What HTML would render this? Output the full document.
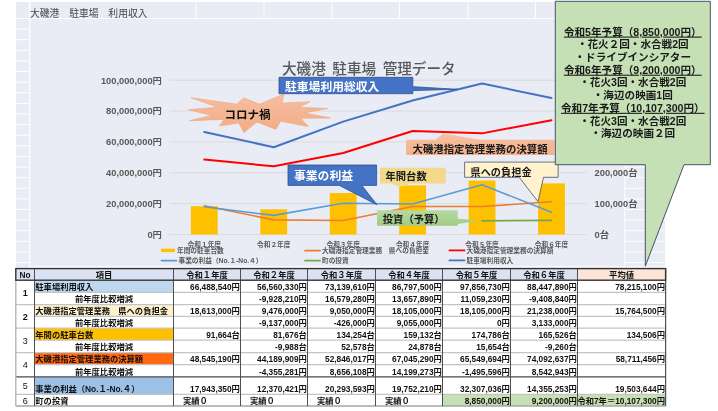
<!DOCTYPE html>
<html lang="ja"><head><meta charset="utf-8"><title>大磯港 駐車場 利用収入</title>
<style>
html,body{margin:0;padding:0;background:#fff;}
body{width:718px;height:411px;position:relative;overflow:hidden;font-family:"Liberation Sans", "Noto Sans CJK JP", sans-serif;}
</style></head><body>
<svg width="718" height="411" viewBox="0 0 718 411" style="position:absolute;left:0;top:0"><rect x="16" y="2" width="649" height="266" fill="#E9EBF5"/>
<line x1="29.5" y1="2" x2="29.5" y2="18.5" stroke="#fff" stroke-width="1"/>
<line x1="196" y1="2" x2="196" y2="18.5" stroke="#fff" stroke-width="1"/>
<line x1="264" y1="2" x2="264" y2="18.5" stroke="#fff" stroke-width="1"/>
<line x1="332" y1="2" x2="332" y2="18.5" stroke="#fff" stroke-width="1"/>
<line x1="399.5" y1="2" x2="399.5" y2="18.5" stroke="#fff" stroke-width="1"/>
<line x1="468" y1="2" x2="468" y2="18.5" stroke="#fff" stroke-width="1"/>
<line x1="535.5" y1="2" x2="535.5" y2="18.5" stroke="#fff" stroke-width="1"/>
<line x1="603" y1="2" x2="603" y2="18.5" stroke="#fff" stroke-width="1"/>
<line x1="29.8" y1="2" x2="29.8" y2="268" stroke="#fff" stroke-width="1.2"/>
<line x1="16" y1="18.50" x2="29.5" y2="18.50" stroke="#fff" stroke-width="1"/>
<line x1="624.5" y1="18.50" x2="665" y2="18.50" stroke="#fff" stroke-width="1"/>
<line x1="16" y1="29.11" x2="29.5" y2="29.11" stroke="#fff" stroke-width="1"/>
<line x1="624.5" y1="29.11" x2="665" y2="29.11" stroke="#fff" stroke-width="1"/>
<line x1="16" y1="39.72" x2="29.5" y2="39.72" stroke="#fff" stroke-width="1"/>
<line x1="624.5" y1="39.72" x2="665" y2="39.72" stroke="#fff" stroke-width="1"/>
<line x1="16" y1="50.33" x2="29.5" y2="50.33" stroke="#fff" stroke-width="1"/>
<line x1="624.5" y1="50.33" x2="665" y2="50.33" stroke="#fff" stroke-width="1"/>
<line x1="16" y1="60.94" x2="29.5" y2="60.94" stroke="#fff" stroke-width="1"/>
<line x1="624.5" y1="60.94" x2="665" y2="60.94" stroke="#fff" stroke-width="1"/>
<line x1="16" y1="71.55" x2="29.5" y2="71.55" stroke="#fff" stroke-width="1"/>
<line x1="624.5" y1="71.55" x2="665" y2="71.55" stroke="#fff" stroke-width="1"/>
<line x1="16" y1="82.16" x2="29.5" y2="82.16" stroke="#fff" stroke-width="1"/>
<line x1="624.5" y1="82.16" x2="665" y2="82.16" stroke="#fff" stroke-width="1"/>
<line x1="16" y1="92.77" x2="29.5" y2="92.77" stroke="#fff" stroke-width="1"/>
<line x1="624.5" y1="92.77" x2="665" y2="92.77" stroke="#fff" stroke-width="1"/>
<line x1="16" y1="103.38" x2="29.5" y2="103.38" stroke="#fff" stroke-width="1"/>
<line x1="624.5" y1="103.38" x2="665" y2="103.38" stroke="#fff" stroke-width="1"/>
<line x1="16" y1="113.99" x2="29.5" y2="113.99" stroke="#fff" stroke-width="1"/>
<line x1="624.5" y1="113.99" x2="665" y2="113.99" stroke="#fff" stroke-width="1"/>
<line x1="16" y1="124.60" x2="29.5" y2="124.60" stroke="#fff" stroke-width="1"/>
<line x1="624.5" y1="124.60" x2="665" y2="124.60" stroke="#fff" stroke-width="1"/>
<line x1="16" y1="135.21" x2="29.5" y2="135.21" stroke="#fff" stroke-width="1"/>
<line x1="624.5" y1="135.21" x2="665" y2="135.21" stroke="#fff" stroke-width="1"/>
<line x1="16" y1="145.82" x2="29.5" y2="145.82" stroke="#fff" stroke-width="1"/>
<line x1="624.5" y1="145.82" x2="665" y2="145.82" stroke="#fff" stroke-width="1"/>
<line x1="16" y1="156.43" x2="29.5" y2="156.43" stroke="#fff" stroke-width="1"/>
<line x1="624.5" y1="156.43" x2="665" y2="156.43" stroke="#fff" stroke-width="1"/>
<line x1="16" y1="167.04" x2="29.5" y2="167.04" stroke="#fff" stroke-width="1"/>
<line x1="624.5" y1="167.04" x2="665" y2="167.04" stroke="#fff" stroke-width="1"/>
<line x1="16" y1="177.65" x2="29.5" y2="177.65" stroke="#fff" stroke-width="1"/>
<line x1="624.5" y1="177.65" x2="665" y2="177.65" stroke="#fff" stroke-width="1"/>
<line x1="16" y1="188.26" x2="29.5" y2="188.26" stroke="#fff" stroke-width="1"/>
<line x1="624.5" y1="188.26" x2="665" y2="188.26" stroke="#fff" stroke-width="1"/>
<line x1="16" y1="198.87" x2="29.5" y2="198.87" stroke="#fff" stroke-width="1"/>
<line x1="624.5" y1="198.87" x2="665" y2="198.87" stroke="#fff" stroke-width="1"/>
<line x1="16" y1="209.48" x2="29.5" y2="209.48" stroke="#fff" stroke-width="1"/>
<line x1="624.5" y1="209.48" x2="665" y2="209.48" stroke="#fff" stroke-width="1"/>
<line x1="16" y1="220.09" x2="29.5" y2="220.09" stroke="#fff" stroke-width="1"/>
<line x1="624.5" y1="220.09" x2="665" y2="220.09" stroke="#fff" stroke-width="1"/>
<line x1="16" y1="230.70" x2="29.5" y2="230.70" stroke="#fff" stroke-width="1"/>
<line x1="624.5" y1="230.70" x2="665" y2="230.70" stroke="#fff" stroke-width="1"/>
<line x1="16" y1="241.31" x2="29.5" y2="241.31" stroke="#fff" stroke-width="1"/>
<line x1="624.5" y1="241.31" x2="665" y2="241.31" stroke="#fff" stroke-width="1"/>
<line x1="16" y1="251.92" x2="29.5" y2="251.92" stroke="#fff" stroke-width="1"/>
<line x1="624.5" y1="251.92" x2="665" y2="251.92" stroke="#fff" stroke-width="1"/>
<line x1="16" y1="262.53" x2="29.5" y2="262.53" stroke="#fff" stroke-width="1"/>
<line x1="624.5" y1="262.53" x2="665" y2="262.53" stroke="#fff" stroke-width="1"/>
<line x1="16" y1="18.5" x2="665" y2="18.5" stroke="#fff" stroke-width="1"/>
<rect x="30.5" y="19" width="594" height="247.5" fill="#E9EBF5"/>
<line x1="624.8" y1="19" x2="624.8" y2="268" stroke="#fff" stroke-width="1"/>
<line x1="30" y1="266.8" x2="665" y2="266.8" stroke="#fff" stroke-width="1"/>
<text x="30" y="17" font-size="9.8" fill="#474747" font-family='"Liberation Sans", "Noto Sans CJK JP", sans-serif'>大磯港　駐車場　利用収入</text>
<text x="282" y="74.2" font-size="14.6" font-weight="500" word-spacing="2.5" fill="#595959" font-family='"Liberation Sans", "Noto Sans CJK JP", sans-serif'>大磯港 駐車場 管理データ</text>
<line x1="169.6" y1="234.50" x2="586.2" y2="234.50" stroke="#D9D9D9" stroke-width="0.9"/>
<line x1="169.6" y1="203.64" x2="586.2" y2="203.64" stroke="#D9D9D9" stroke-width="0.9"/>
<line x1="169.6" y1="172.78" x2="586.2" y2="172.78" stroke="#D9D9D9" stroke-width="0.9"/>
<line x1="169.6" y1="141.92" x2="586.2" y2="141.92" stroke="#D9D9D9" stroke-width="0.9"/>
<line x1="169.6" y1="111.06" x2="586.2" y2="111.06" stroke="#D9D9D9" stroke-width="0.9"/>
<line x1="169.6" y1="80.20" x2="586.2" y2="80.20" stroke="#D9D9D9" stroke-width="0.9"/>
<text x="161.9" y="237.80" font-size="9.3" font-weight="bold" fill="#595959" text-anchor="end" font-family='"Liberation Sans", "Noto Sans CJK JP", sans-serif'>0円</text>
<text x="161.9" y="206.94" font-size="9.3" font-weight="bold" fill="#595959" text-anchor="end" font-family='"Liberation Sans", "Noto Sans CJK JP", sans-serif'>20,000,000円</text>
<text x="161.9" y="176.08" font-size="9.3" font-weight="bold" fill="#595959" text-anchor="end" font-family='"Liberation Sans", "Noto Sans CJK JP", sans-serif'>40,000,000円</text>
<text x="161.9" y="145.22" font-size="9.3" font-weight="bold" fill="#595959" text-anchor="end" font-family='"Liberation Sans", "Noto Sans CJK JP", sans-serif'>60,000,000円</text>
<text x="161.9" y="114.36" font-size="9.3" font-weight="bold" fill="#595959" text-anchor="end" font-family='"Liberation Sans", "Noto Sans CJK JP", sans-serif'>80,000,000円</text>
<text x="161.9" y="83.50" font-size="9.3" font-weight="bold" fill="#595959" text-anchor="end" font-family='"Liberation Sans", "Noto Sans CJK JP", sans-serif'>100,000,000円</text>
<text x="594.6" y="237.80" font-size="9.3" font-weight="bold" fill="#595959" font-family='"Liberation Sans", "Noto Sans CJK JP", sans-serif'>0台</text>
<text x="594.6" y="206.94" font-size="9.3" font-weight="bold" fill="#595959" font-family='"Liberation Sans", "Noto Sans CJK JP", sans-serif'>100,000台</text>
<text x="594.6" y="176.08" font-size="9.3" font-weight="bold" fill="#595959" font-family='"Liberation Sans", "Noto Sans CJK JP", sans-serif'>200,000台</text>
<text x="594.6" y="145.22" font-size="9.3" font-weight="bold" fill="#595959" font-family='"Liberation Sans", "Noto Sans CJK JP", sans-serif'>300,000台</text>
<text x="594.6" y="114.36" font-size="9.3" font-weight="bold" fill="#595959" font-family='"Liberation Sans", "Noto Sans CJK JP", sans-serif'>400,000台</text>
<text x="594.6" y="83.50" font-size="9.3" font-weight="bold" fill="#595959" font-family='"Liberation Sans", "Noto Sans CJK JP", sans-serif'>500,000台</text>
<rect x="190.90" y="206.21" width="26.8" height="28.29" fill="#FFC000"/>
<rect x="260.34" y="209.29" width="26.8" height="25.21" fill="#FFC000"/>
<rect x="329.78" y="193.07" width="26.8" height="41.43" fill="#FFC000"/>
<rect x="399.22" y="185.39" width="26.8" height="49.11" fill="#FFC000"/>
<rect x="468.66" y="180.56" width="26.8" height="53.94" fill="#FFC000"/>
<rect x="538.10" y="183.42" width="26.8" height="51.08" fill="#FFC000"/>
<polyline points="204.30,205.78 273.74,219.88 343.18,220.54 412.62,206.56 482.06,206.56 551.50,201.73" fill="none" stroke="#ED7D31" stroke-width="1.6" stroke-linejoin="round" stroke-linecap="round"/>
<polyline points="204.30,206.81 273.74,215.41 343.18,203.19 412.62,204.02 482.06,184.65 551.50,212.35" fill="none" stroke="#5B9BD5" stroke-width="1.6" stroke-linejoin="round" stroke-linecap="round"/>
<polyline points="482.06,220.84 551.50,220.30" fill="none" stroke="#70AD47" stroke-width="1.8" stroke-linecap="round"/>
<polyline points="204.30,159.59 273.74,166.31 343.18,152.96 412.62,131.05 482.06,133.36 551.50,120.18" fill="none" stroke="#FF0000" stroke-width="2" stroke-linejoin="round" stroke-linecap="round"/>
<polyline points="204.30,131.91 273.74,147.23 343.18,121.65 412.62,100.57 482.06,83.51 551.50,98.02" fill="none" stroke="#4472C4" stroke-width="2" stroke-linejoin="round" stroke-linecap="round"/>
<text x="204.30" y="246.8" font-size="6.7" font-weight="bold" fill="#595959" text-anchor="middle" font-family='"Liberation Sans", "Noto Sans CJK JP", sans-serif'>令和１年度</text>
<text x="273.74" y="246.8" font-size="6.7" font-weight="bold" fill="#595959" text-anchor="middle" font-family='"Liberation Sans", "Noto Sans CJK JP", sans-serif'>令和２年度</text>
<text x="343.18" y="246.8" font-size="6.7" font-weight="bold" fill="#595959" text-anchor="middle" font-family='"Liberation Sans", "Noto Sans CJK JP", sans-serif'>令和３年度</text>
<text x="412.62" y="246.8" font-size="6.7" font-weight="bold" fill="#595959" text-anchor="middle" font-family='"Liberation Sans", "Noto Sans CJK JP", sans-serif'>令和４年度</text>
<text x="482.06" y="246.8" font-size="6.7" font-weight="bold" fill="#595959" text-anchor="middle" font-family='"Liberation Sans", "Noto Sans CJK JP", sans-serif'>令和５年度</text>
<text x="551.50" y="246.8" font-size="6.7" font-weight="bold" fill="#595959" text-anchor="middle" font-family='"Liberation Sans", "Noto Sans CJK JP", sans-serif'>令和６年度</text>
<rect x="161" y="248.70000000000002" width="14" height="3.4" fill="#FFC000"/>
<text x="177" y="252.70000000000002" font-size="6.7" font-weight="bold" fill="#595959" font-family='"Liberation Sans", "Noto Sans CJK JP", sans-serif'>年間の駐車台数</text>
<line x1="305" y1="250.6" x2="320" y2="250.6" stroke="#ED7D31" stroke-width="1.8" stroke-linecap="round"/>
<text x="322" y="252.9" font-size="6.7" font-weight="bold" fill="#595959" font-family='"Liberation Sans", "Noto Sans CJK JP", sans-serif'>大磯港指定管理業務　県への負担金</text>
<line x1="449.5" y1="250.4" x2="464.5" y2="250.4" stroke="#FF0000" stroke-width="1.8" stroke-linecap="round"/>
<text x="466.5" y="252.70000000000002" font-size="6.7" font-weight="bold" fill="#595959" font-family='"Liberation Sans", "Noto Sans CJK JP", sans-serif'>大磯港指定管理業務の決算額</text>
<line x1="161.5" y1="260.6" x2="176.5" y2="260.6" stroke="#5B9BD5" stroke-width="1.8" stroke-linecap="round"/>
<text x="178.5" y="262.90000000000003" font-size="6.7" font-weight="bold" fill="#595959" font-family='"Liberation Sans", "Noto Sans CJK JP", sans-serif'>事業の利益（No.１-No.４）</text>
<line x1="305" y1="260.6" x2="320" y2="260.6" stroke="#70AD47" stroke-width="1.8" stroke-linecap="round"/>
<text x="322" y="262.90000000000003" font-size="6.7" font-weight="bold" fill="#595959" font-family='"Liberation Sans", "Noto Sans CJK JP", sans-serif'>町の投資</text>
<line x1="449.5" y1="260.4" x2="464.5" y2="260.4" stroke="#4472C4" stroke-width="1.8" stroke-linecap="round"/>
<text x="466.5" y="262.7" font-size="6.7" font-weight="bold" fill="#595959" font-family='"Liberation Sans", "Noto Sans CJK JP", sans-serif'>駐車場利用収入</text>
<defs><linearGradient id="gEx" x1="0" y1="0" x2="0" y2="1"><stop offset="0" stop-color="#F6BE9F"/><stop offset="1" stop-color="#F3AC86"/></linearGradient><linearGradient id="gInv" x1="0" y1="0" x2="0" y2="1"><stop offset="0" stop-color="#B6D9A1"/><stop offset="1" stop-color="#A1CB86"/></linearGradient><linearGradient id="gKes" x1="0" y1="0" x2="0" y2="1"><stop offset="0" stop-color="#F6C2A4"/><stop offset="1" stop-color="#F3B089"/></linearGradient></defs>
<polygon points="191,97.7 237,104.2 243.6,97.9 259.5,104.2 283.8,94.1 282,103.2 310,101.7 298.8,107.3 327.5,108.5 304.6,112.9 330.4,118 300.7,118.2 308.2,126.5 280.6,121.2 275.8,129.4 257,121.9 243.9,132.6 238.7,122.9 219.5,125.9 223.9,119.4 189.4,120.7 211.8,115.4 188.3,109.7 217.9,107.3" fill="url(#gEx)" stroke="#F1A278" stroke-width="0.6" stroke-linejoin="miter"/>
<text x="247.5" y="118.6" font-size="11.5" font-weight="bold" fill="#111" text-anchor="middle" font-family='"Liberation Sans", "Noto Sans CJK JP", sans-serif'>コロナ禍</text>
<path d="M279,77.3 H412.8 V86.7 L457.4,89.3 L412.8,90.6 V93.7 H279 Z" fill="#4472C4" stroke="#2F528F" stroke-width="0.8"/>
<text x="285" y="91.2" font-size="11.8" font-weight="bold" fill="#fff" font-family='"Liberation Sans", "Noto Sans CJK JP", sans-serif'>駐車場利用総収入</text>
<path d="M406.1,139.8 H435.7 L443,133.5 L480,139.8 H554.5 V154.9 H406.1 Z" fill="url(#gKes)"/>
<text x="412.5" y="152.6" font-size="10.4" font-weight="bold" fill="#1a1a1a" font-family='"Liberation Sans", "Noto Sans CJK JP", sans-serif'>大磯港指定管理業務の決算額</text>
<path d="M288,165 H376.6 V185.4 H361.9 L377,204.8 L339.3,185.4 H288 Z" fill="#4472C4" stroke="#2F528F" stroke-width="0.8"/>
<text x="294" y="179.9" font-size="11.8" font-weight="bold" fill="#fff" font-family='"Liberation Sans", "Noto Sans CJK JP", sans-serif'>事業の利益</text>
<path d="M380,167.7 H445.7 V183.4 H408 V185 L399.5,186.4 L390.9,183.4 H380 Z" fill="#F2D98C"/>
<text x="385.5" y="180.2" font-size="10.3" font-weight="bold" fill="#1a1a1a" font-family='"Liberation Sans", "Noto Sans CJK JP", sans-serif'>年間台数</text>
<path d="M464.6,162.1 H558.1 V177.3 H543.5 L538,201.6 L519.2,177.3 H464.6 Z" fill="#FFF2CC" stroke="#44546A" stroke-width="0.8"/>
<text x="470.5" y="175.6" font-size="10.2" font-weight="bold" fill="#1a1a1a" font-family='"Liberation Sans", "Noto Sans CJK JP", sans-serif'>県への負担金</text>
<path d="M377,210.2 H457.8 V218.5 L478.7,220.7 L457.8,224 V225.8 H377 Z" fill="url(#gInv)"/>
<text x="382.8" y="223.1" font-size="10.3" font-weight="bold" fill="#1a1a1a" font-family='"Liberation Sans", "Noto Sans CJK JP", sans-serif'>投資（予算）</text>
<path d="M555.3,1.3 H710.3 V164.7 H684 L645.3,266.2 V164.7 H555.3 Z" fill="#C5E0B4" stroke="#44546A" stroke-width="1"/>
<text x="632.8" y="35.60" font-size="10.6" font-weight="bold" fill="#1a1a1a" text-anchor="middle" font-family='"Liberation Sans", "Noto Sans CJK JP", sans-serif' text-decoration="underline">令和5年予算（8,850,000円）</text>
<text x="632.8" y="48.30" font-size="10.6" font-weight="bold" fill="#1a1a1a" text-anchor="middle" font-family='"Liberation Sans", "Noto Sans CJK JP", sans-serif'>・花火２回・水合戦2回</text>
<text x="632.8" y="61.00" font-size="10.6" font-weight="bold" fill="#1a1a1a" text-anchor="middle" font-family='"Liberation Sans", "Noto Sans CJK JP", sans-serif'>・ドライブインシアター</text>
<text x="632.8" y="73.70" font-size="10.6" font-weight="bold" fill="#1a1a1a" text-anchor="middle" font-family='"Liberation Sans", "Noto Sans CJK JP", sans-serif' text-decoration="underline">令和6年予算（9,200,000円）</text>
<text x="632.8" y="86.40" font-size="10.6" font-weight="bold" fill="#1a1a1a" text-anchor="middle" font-family='"Liberation Sans", "Noto Sans CJK JP", sans-serif'>・花火3回・水合戦2回</text>
<text x="632.8" y="99.10" font-size="10.6" font-weight="bold" fill="#1a1a1a" text-anchor="middle" font-family='"Liberation Sans", "Noto Sans CJK JP", sans-serif'>・海辺の映画1回</text>
<text x="632.8" y="111.80" font-size="10.6" font-weight="bold" fill="#1a1a1a" text-anchor="middle" font-family='"Liberation Sans", "Noto Sans CJK JP", sans-serif' text-decoration="underline">令和7年予算（10,107,300円）</text>
<text x="632.8" y="124.50" font-size="10.6" font-weight="bold" fill="#1a1a1a" text-anchor="middle" font-family='"Liberation Sans", "Noto Sans CJK JP", sans-serif'>・花火3回・水合戦2回</text>
<text x="632.8" y="137.20" font-size="10.6" font-weight="bold" fill="#1a1a1a" text-anchor="middle" font-family='"Liberation Sans", "Noto Sans CJK JP", sans-serif'>・海辺の映画２回</text></svg>
<svg width="718" height="411" viewBox="0 0 718 411" style="position:absolute;left:0;top:0"><rect x="15.8" y="268.6" width="649.80" height="137.40" fill="#fff"/>
<rect x="15.8" y="268.6" width="561.70" height="11.60" fill="#D9E1F2"/>
<rect x="577.5" y="268.6" width="88.10" height="11.60" fill="#FCE4D6"/>
<rect x="34.5" y="280.2" width="139.00" height="12.20" fill="#BDD7EE"/>
<rect x="34.5" y="304.7" width="139.00" height="11.60" fill="#FFF2CC"/>
<rect x="34.5" y="328.2" width="139.00" height="12.00" fill="#FFC000"/>
<rect x="34.5" y="352.6" width="139.00" height="12.00" fill="#FF6A13"/>
<rect x="34.5" y="376.9" width="139.00" height="17.50" fill="#9BC2E6"/>
<rect x="442.5" y="394.4" width="223.10" height="11.60" fill="#C6E0B4"/>
<line x1="34.5" y1="292.4" x2="665.6" y2="292.4" stroke="#C4C4C4" stroke-width="1.3"/>
<line x1="15.8" y1="304.7" x2="665.6" y2="304.7" stroke="#C4C4C4" stroke-width="1.3"/>
<line x1="34.5" y1="316.3" x2="665.6" y2="316.3" stroke="#C4C4C4" stroke-width="1.3"/>
<line x1="15.8" y1="328.2" x2="665.6" y2="328.2" stroke="#C4C4C4" stroke-width="1.3"/>
<line x1="34.5" y1="340.2" x2="665.6" y2="340.2" stroke="#C4C4C4" stroke-width="1.3"/>
<line x1="15.8" y1="352.6" x2="665.6" y2="352.6" stroke="#C4C4C4" stroke-width="1.3"/>
<line x1="34.5" y1="364.6" x2="665.6" y2="364.6" stroke="#C4C4C4" stroke-width="1.3"/>
<line x1="15.8" y1="394.4" x2="665.6" y2="394.4" stroke="#C4C4C4" stroke-width="1.3"/>
<line x1="15.8" y1="406" x2="665.6" y2="406" stroke="#A6A6A6" stroke-width="1.3"/>
<line x1="15.8" y1="376.9" x2="665.6" y2="376.9" stroke="#4a4a4a" stroke-width="1.3"/>
<line x1="15.8" y1="280.2" x2="15.8" y2="406" stroke="#B0B0B0" stroke-width="1.3"/>
<line x1="34.5" y1="268.6" x2="34.5" y2="406" stroke="#505050" stroke-width="1"/>
<line x1="173.5" y1="268.6" x2="173.5" y2="406" stroke="#505050" stroke-width="1"/>
<line x1="240.5" y1="268.6" x2="240.5" y2="406" stroke="#505050" stroke-width="1"/>
<line x1="307.5" y1="268.6" x2="307.5" y2="406" stroke="#505050" stroke-width="1"/>
<line x1="375.5" y1="268.6" x2="375.5" y2="406" stroke="#505050" stroke-width="1"/>
<line x1="442.5" y1="268.6" x2="442.5" y2="406" stroke="#505050" stroke-width="1"/>
<line x1="510.5" y1="268.6" x2="510.5" y2="406" stroke="#505050" stroke-width="1"/>
<line x1="577.5" y1="268.6" x2="577.5" y2="406" stroke="#505050" stroke-width="1"/>
<line x1="665.6" y1="268.6" x2="665.6" y2="406" stroke="#505050" stroke-width="1.2"/>
<rect x="15.8" y="268.6" width="649.80" height="11.60" fill="none" stroke="#333" stroke-width="1.4"/>
<text x="25.15" y="277.60" font-size="8.3" font-weight="bold" fill="#111" text-anchor="middle" font-family='"Liberation Sans", "Noto Sans CJK JP", sans-serif'>No</text>
<text x="104.00" y="277.60" font-size="8.3" font-weight="bold" fill="#111" text-anchor="middle" font-family='"Liberation Sans", "Noto Sans CJK JP", sans-serif'>項目</text>
<text x="207.00" y="277.60" font-size="8.3" font-weight="bold" fill="#111" text-anchor="middle" font-family='"Liberation Sans", "Noto Sans CJK JP", sans-serif'>令和１年度</text>
<text x="274.00" y="277.60" font-size="8.3" font-weight="bold" fill="#111" text-anchor="middle" font-family='"Liberation Sans", "Noto Sans CJK JP", sans-serif'>令和２年度</text>
<text x="341.50" y="277.60" font-size="8.3" font-weight="bold" fill="#111" text-anchor="middle" font-family='"Liberation Sans", "Noto Sans CJK JP", sans-serif'>令和３年度</text>
<text x="409.00" y="277.60" font-size="8.3" font-weight="bold" fill="#111" text-anchor="middle" font-family='"Liberation Sans", "Noto Sans CJK JP", sans-serif'>令和４年度</text>
<text x="476.50" y="277.60" font-size="8.3" font-weight="bold" fill="#111" text-anchor="middle" font-family='"Liberation Sans", "Noto Sans CJK JP", sans-serif'>令和５年度</text>
<text x="544.00" y="277.60" font-size="8.3" font-weight="bold" fill="#111" text-anchor="middle" font-family='"Liberation Sans", "Noto Sans CJK JP", sans-serif'>令和６年度</text>
<text x="621.55" y="277.60" font-size="8.3" font-weight="bold" fill="#111" text-anchor="middle" font-family='"Liberation Sans", "Noto Sans CJK JP", sans-serif'>平均値</text>
<text x="25.15" y="295.75" font-size="9" font-weight="bold" fill="#111" text-anchor="middle" font-family='"Liberation Sans", "Noto Sans CJK JP", sans-serif'>1</text>
<text x="35.30" y="290.00" font-size="8.3" font-weight="bold" fill="#111" text-anchor="start" font-family='"Liberation Sans", "Noto Sans CJK JP", sans-serif'>駐車場利用収入</text>
<text x="104.00" y="302.30" font-size="8.3" font-weight="bold" fill="#111" text-anchor="middle" font-family='"Liberation Sans", "Noto Sans CJK JP", sans-serif'>前年度比較増減</text>
<text x="239.90" y="290.00" font-size="8.3" font-weight="bold" fill="#111" text-anchor="end" font-family='"Liberation Sans", "Noto Sans CJK JP", sans-serif'>66,488,540円</text>
<text x="306.90" y="290.00" font-size="8.3" font-weight="bold" fill="#111" text-anchor="end" font-family='"Liberation Sans", "Noto Sans CJK JP", sans-serif'>56,560,330円</text>
<text x="374.90" y="290.00" font-size="8.3" font-weight="bold" fill="#111" text-anchor="end" font-family='"Liberation Sans", "Noto Sans CJK JP", sans-serif'>73,139,610円</text>
<text x="441.90" y="290.00" font-size="8.3" font-weight="bold" fill="#111" text-anchor="end" font-family='"Liberation Sans", "Noto Sans CJK JP", sans-serif'>86,797,500円</text>
<text x="509.90" y="290.00" font-size="8.3" font-weight="bold" fill="#111" text-anchor="end" font-family='"Liberation Sans", "Noto Sans CJK JP", sans-serif'>97,856,730円</text>
<text x="576.90" y="290.00" font-size="8.3" font-weight="bold" fill="#111" text-anchor="end" font-family='"Liberation Sans", "Noto Sans CJK JP", sans-serif'>88,447,890円</text>
<text x="665.00" y="290.00" font-size="8.3" font-weight="bold" fill="#111" text-anchor="end" font-family='"Liberation Sans", "Noto Sans CJK JP", sans-serif'>78,215,100円</text>
<text x="306.90" y="302.30" font-size="8.3" font-weight="bold" fill="#111" text-anchor="end" font-family='"Liberation Sans", "Noto Sans CJK JP", sans-serif'>-9,928,210円</text>
<text x="374.90" y="302.30" font-size="8.3" font-weight="bold" fill="#111" text-anchor="end" font-family='"Liberation Sans", "Noto Sans CJK JP", sans-serif'>16,579,280円</text>
<text x="441.90" y="302.30" font-size="8.3" font-weight="bold" fill="#111" text-anchor="end" font-family='"Liberation Sans", "Noto Sans CJK JP", sans-serif'>13,657,890円</text>
<text x="509.90" y="302.30" font-size="8.3" font-weight="bold" fill="#111" text-anchor="end" font-family='"Liberation Sans", "Noto Sans CJK JP", sans-serif'>11,059,230円</text>
<text x="576.90" y="302.30" font-size="8.3" font-weight="bold" fill="#111" text-anchor="end" font-family='"Liberation Sans", "Noto Sans CJK JP", sans-serif'>-9,408,840円</text>
<text x="25.15" y="319.75" font-size="9" font-weight="bold" fill="#111" text-anchor="middle" font-family='"Liberation Sans", "Noto Sans CJK JP", sans-serif'>2</text>
<text x="35.30" y="313.90" font-size="8.3" font-weight="bold" fill="#111" text-anchor="start" font-family='"Liberation Sans", "Noto Sans CJK JP", sans-serif'>大磯港指定管理業務　県への負担金</text>
<text x="104.00" y="325.80" font-size="8.3" font-weight="bold" fill="#111" text-anchor="middle" font-family='"Liberation Sans", "Noto Sans CJK JP", sans-serif'>前年度比較増減</text>
<text x="239.90" y="313.90" font-size="8.3" font-weight="bold" fill="#111" text-anchor="end" font-family='"Liberation Sans", "Noto Sans CJK JP", sans-serif'>18,613,000円</text>
<text x="306.90" y="313.90" font-size="8.3" font-weight="bold" fill="#111" text-anchor="end" font-family='"Liberation Sans", "Noto Sans CJK JP", sans-serif'>9,476,000円</text>
<text x="374.90" y="313.90" font-size="8.3" font-weight="bold" fill="#111" text-anchor="end" font-family='"Liberation Sans", "Noto Sans CJK JP", sans-serif'>9,050,000円</text>
<text x="441.90" y="313.90" font-size="8.3" font-weight="bold" fill="#111" text-anchor="end" font-family='"Liberation Sans", "Noto Sans CJK JP", sans-serif'>18,105,000円</text>
<text x="509.90" y="313.90" font-size="8.3" font-weight="bold" fill="#111" text-anchor="end" font-family='"Liberation Sans", "Noto Sans CJK JP", sans-serif'>18,105,000円</text>
<text x="576.90" y="313.90" font-size="8.3" font-weight="bold" fill="#111" text-anchor="end" font-family='"Liberation Sans", "Noto Sans CJK JP", sans-serif'>21,238,000円</text>
<text x="665.00" y="313.90" font-size="8.3" font-weight="bold" fill="#111" text-anchor="end" font-family='"Liberation Sans", "Noto Sans CJK JP", sans-serif'>15,764,500円</text>
<text x="306.90" y="325.80" font-size="8.3" font-weight="bold" fill="#111" text-anchor="end" font-family='"Liberation Sans", "Noto Sans CJK JP", sans-serif'>-9,137,000円</text>
<text x="374.90" y="325.80" font-size="8.3" font-weight="bold" fill="#111" text-anchor="end" font-family='"Liberation Sans", "Noto Sans CJK JP", sans-serif'>-426,000円</text>
<text x="441.90" y="325.80" font-size="8.3" font-weight="bold" fill="#111" text-anchor="end" font-family='"Liberation Sans", "Noto Sans CJK JP", sans-serif'>9,055,000円</text>
<text x="509.90" y="325.80" font-size="8.3" font-weight="bold" fill="#111" text-anchor="end" font-family='"Liberation Sans", "Noto Sans CJK JP", sans-serif'>0円</text>
<text x="576.90" y="325.80" font-size="8.3" font-weight="bold" fill="#111" text-anchor="end" font-family='"Liberation Sans", "Noto Sans CJK JP", sans-serif'>3,133,000円</text>
<text x="25.15" y="343.70" font-size="9" font-weight="normal" fill="#111" text-anchor="middle" font-family='"Liberation Sans", "Noto Sans CJK JP", sans-serif'>3</text>
<text x="35.30" y="337.80" font-size="8.3" font-weight="bold" fill="#111" text-anchor="start" font-family='"Liberation Sans", "Noto Sans CJK JP", sans-serif'>年間の駐車台数</text>
<text x="104.00" y="350.20" font-size="8.3" font-weight="bold" fill="#111" text-anchor="middle" font-family='"Liberation Sans", "Noto Sans CJK JP", sans-serif'>前年度比較増減</text>
<text x="239.90" y="337.80" font-size="8.3" font-weight="bold" fill="#111" text-anchor="end" font-family='"Liberation Sans", "Noto Sans CJK JP", sans-serif'>91,664台</text>
<text x="306.90" y="337.80" font-size="8.3" font-weight="bold" fill="#111" text-anchor="end" font-family='"Liberation Sans", "Noto Sans CJK JP", sans-serif'>81,676台</text>
<text x="374.90" y="337.80" font-size="8.3" font-weight="bold" fill="#111" text-anchor="end" font-family='"Liberation Sans", "Noto Sans CJK JP", sans-serif'>134,254台</text>
<text x="441.90" y="337.80" font-size="8.3" font-weight="bold" fill="#111" text-anchor="end" font-family='"Liberation Sans", "Noto Sans CJK JP", sans-serif'>159,132台</text>
<text x="509.90" y="337.80" font-size="8.3" font-weight="bold" fill="#111" text-anchor="end" font-family='"Liberation Sans", "Noto Sans CJK JP", sans-serif'>174,786台</text>
<text x="576.90" y="337.80" font-size="8.3" font-weight="bold" fill="#111" text-anchor="end" font-family='"Liberation Sans", "Noto Sans CJK JP", sans-serif'>165,526台</text>
<text x="665.00" y="337.80" font-size="8.3" font-weight="bold" fill="#111" text-anchor="end" font-family='"Liberation Sans", "Noto Sans CJK JP", sans-serif'>134,506円</text>
<text x="306.90" y="350.20" font-size="8.3" font-weight="bold" fill="#111" text-anchor="end" font-family='"Liberation Sans", "Noto Sans CJK JP", sans-serif'>-9,988台</text>
<text x="374.90" y="350.20" font-size="8.3" font-weight="bold" fill="#111" text-anchor="end" font-family='"Liberation Sans", "Noto Sans CJK JP", sans-serif'>52,578台</text>
<text x="441.90" y="350.20" font-size="8.3" font-weight="bold" fill="#111" text-anchor="end" font-family='"Liberation Sans", "Noto Sans CJK JP", sans-serif'>24,878台</text>
<text x="509.90" y="350.20" font-size="8.3" font-weight="bold" fill="#111" text-anchor="end" font-family='"Liberation Sans", "Noto Sans CJK JP", sans-serif'>15,654台</text>
<text x="576.90" y="350.20" font-size="8.3" font-weight="bold" fill="#111" text-anchor="end" font-family='"Liberation Sans", "Noto Sans CJK JP", sans-serif'>-9,260台</text>
<text x="25.15" y="368.05" font-size="9" font-weight="normal" fill="#111" text-anchor="middle" font-family='"Liberation Sans", "Noto Sans CJK JP", sans-serif'>4</text>
<text x="35.30" y="362.20" font-size="8.3" font-weight="bold" fill="#111" text-anchor="start" font-family='"Liberation Sans", "Noto Sans CJK JP", sans-serif'>大磯港指定管理業務の決算額</text>
<text x="104.00" y="374.50" font-size="8.3" font-weight="bold" fill="#111" text-anchor="middle" font-family='"Liberation Sans", "Noto Sans CJK JP", sans-serif'>前年度比較増減</text>
<text x="239.90" y="362.20" font-size="8.3" font-weight="bold" fill="#111" text-anchor="end" font-family='"Liberation Sans", "Noto Sans CJK JP", sans-serif'>48,545,190円</text>
<text x="306.90" y="362.20" font-size="8.3" font-weight="bold" fill="#111" text-anchor="end" font-family='"Liberation Sans", "Noto Sans CJK JP", sans-serif'>44,189,909円</text>
<text x="374.90" y="362.20" font-size="8.3" font-weight="bold" fill="#111" text-anchor="end" font-family='"Liberation Sans", "Noto Sans CJK JP", sans-serif'>52,846,017円</text>
<text x="441.90" y="362.20" font-size="8.3" font-weight="bold" fill="#111" text-anchor="end" font-family='"Liberation Sans", "Noto Sans CJK JP", sans-serif'>67,045,290円</text>
<text x="509.90" y="362.20" font-size="8.3" font-weight="bold" fill="#111" text-anchor="end" font-family='"Liberation Sans", "Noto Sans CJK JP", sans-serif'>65,549,694円</text>
<text x="576.90" y="362.20" font-size="8.3" font-weight="bold" fill="#111" text-anchor="end" font-family='"Liberation Sans", "Noto Sans CJK JP", sans-serif'>74,092,637円</text>
<text x="665.00" y="362.20" font-size="8.3" font-weight="bold" fill="#111" text-anchor="end" font-family='"Liberation Sans", "Noto Sans CJK JP", sans-serif'>58,711,456円</text>
<text x="306.90" y="374.50" font-size="8.3" font-weight="bold" fill="#111" text-anchor="end" font-family='"Liberation Sans", "Noto Sans CJK JP", sans-serif'>-4,355,281円</text>
<text x="374.90" y="374.50" font-size="8.3" font-weight="bold" fill="#111" text-anchor="end" font-family='"Liberation Sans", "Noto Sans CJK JP", sans-serif'>8,656,108円</text>
<text x="441.90" y="374.50" font-size="8.3" font-weight="bold" fill="#111" text-anchor="end" font-family='"Liberation Sans", "Noto Sans CJK JP", sans-serif'>14,199,273円</text>
<text x="509.90" y="374.50" font-size="8.3" font-weight="bold" fill="#111" text-anchor="end" font-family='"Liberation Sans", "Noto Sans CJK JP", sans-serif'>-1,495,596円</text>
<text x="576.90" y="374.50" font-size="8.3" font-weight="bold" fill="#111" text-anchor="end" font-family='"Liberation Sans", "Noto Sans CJK JP", sans-serif'>8,542,943円</text>
<text x="25.15" y="388.95" font-size="9" font-weight="normal" fill="#111" text-anchor="middle" font-family='"Liberation Sans", "Noto Sans CJK JP", sans-serif'>5</text>
<text x="35.30" y="392.00" font-size="8.3" font-weight="bold" fill="#111" text-anchor="start" font-family='"Liberation Sans", "Noto Sans CJK JP", sans-serif'>事業の利益（No.１-No.４）</text>
<text x="239.90" y="392.00" font-size="8.3" font-weight="bold" fill="#111" text-anchor="end" font-family='"Liberation Sans", "Noto Sans CJK JP", sans-serif'>17,943,350円</text>
<text x="306.90" y="392.00" font-size="8.3" font-weight="bold" fill="#111" text-anchor="end" font-family='"Liberation Sans", "Noto Sans CJK JP", sans-serif'>12,370,421円</text>
<text x="374.90" y="392.00" font-size="8.3" font-weight="bold" fill="#111" text-anchor="end" font-family='"Liberation Sans", "Noto Sans CJK JP", sans-serif'>20,293,593円</text>
<text x="441.90" y="392.00" font-size="8.3" font-weight="bold" fill="#111" text-anchor="end" font-family='"Liberation Sans", "Noto Sans CJK JP", sans-serif'>19,752,210円</text>
<text x="509.90" y="392.00" font-size="8.3" font-weight="bold" fill="#111" text-anchor="end" font-family='"Liberation Sans", "Noto Sans CJK JP", sans-serif'>32,307,036円</text>
<text x="576.90" y="392.00" font-size="8.3" font-weight="bold" fill="#111" text-anchor="end" font-family='"Liberation Sans", "Noto Sans CJK JP", sans-serif'>14,355,253円</text>
<text x="665.00" y="392.00" font-size="8.3" font-weight="bold" fill="#111" text-anchor="end" font-family='"Liberation Sans", "Noto Sans CJK JP", sans-serif'>19,503,644円</text>
<text x="25.15" y="403.60" font-size="9" font-weight="normal" fill="#111" text-anchor="middle" font-family='"Liberation Sans", "Noto Sans CJK JP", sans-serif'>6</text>
<text x="35.30" y="403.60" font-size="8.3" font-weight="bold" fill="#111" text-anchor="start" font-family='"Liberation Sans", "Noto Sans CJK JP", sans-serif'>町の投資</text>
<text x="183.00" y="403.60" font-size="8.3" font-weight="bold" fill="#111" text-anchor="start" font-family='"Liberation Sans", "Noto Sans CJK JP", sans-serif'>実績０</text>
<text x="250.00" y="403.60" font-size="8.3" font-weight="bold" fill="#111" text-anchor="start" font-family='"Liberation Sans", "Noto Sans CJK JP", sans-serif'>実績０</text>
<text x="317.00" y="403.60" font-size="8.3" font-weight="bold" fill="#111" text-anchor="start" font-family='"Liberation Sans", "Noto Sans CJK JP", sans-serif'>実績０</text>
<text x="385.00" y="403.60" font-size="8.3" font-weight="bold" fill="#111" text-anchor="start" font-family='"Liberation Sans", "Noto Sans CJK JP", sans-serif'>実績０</text>
<text x="509.90" y="403.60" font-size="8.3" font-weight="bold" fill="#111" text-anchor="end" font-family='"Liberation Sans", "Noto Sans CJK JP", sans-serif'>8,850,000円</text>
<text x="576.90" y="403.60" font-size="8.3" font-weight="bold" fill="#111" text-anchor="end" font-family='"Liberation Sans", "Noto Sans CJK JP", sans-serif'>9,200,000円</text>
<text x="665.00" y="403.60" font-size="8.3" font-weight="bold" fill="#111" text-anchor="end" font-family='"Liberation Sans", "Noto Sans CJK JP", sans-serif'>令和7年＝10,107,300円</text></svg>
</body></html>
